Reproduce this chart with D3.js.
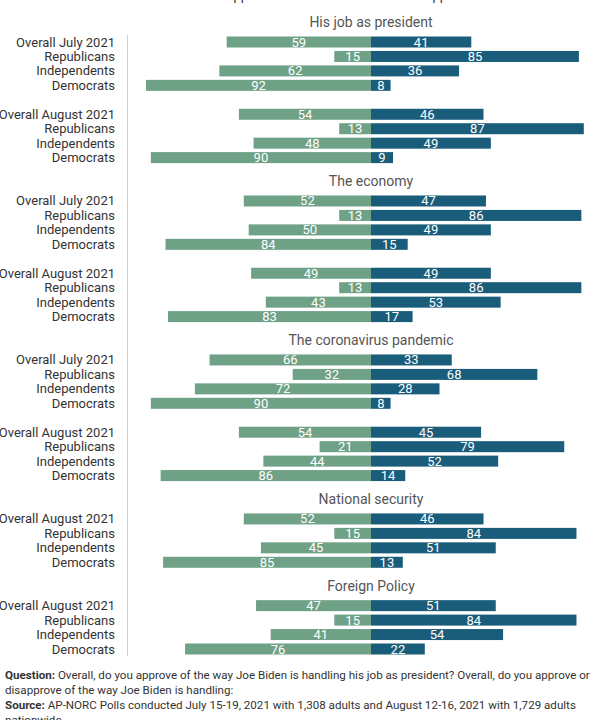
<!DOCTYPE html>
<html><head><meta charset="utf-8">
<script src="https://cdn.jsdelivr.net/npm/d3@7"></script>
<style>
body{margin:0;background:#fff;font-family:Roboto,"Noto Sans",sans-serif;}
.foot{position:absolute;left:5px;top:668px;width:600px;font-size:11.6px;line-height:15px;color:#333;}
</style></head>
<body>
<svg id="c" width="613" height="665"></svg>
<div class="foot"><b>Question:</b> Overall, do you approve of the way Joe Biden is handling his job as president? Overall, do you approve or disapprove of the way Joe Biden is handling:<br><b>Source:</b> AP-NORC Polls conducted July 15-19, 2021 with 1,308 adults and August 12-16, 2021 with 1,729 adults nationwide</div>
<script>
const legendLabels = ["Disapprove","Approve"];
const topics = ["His job as president","The economy","The coronavirus pandemic","National security","Foreign Policy"];
const groupTopic = [0,0,1,1,2,2,3,4];
const groupPeriod = ["Overall July 2021","Overall August 2021","Overall July 2021","Overall August 2021","Overall July 2021","Overall August 2021","Overall August 2021","Overall August 2021"];
const subgroups = ["Republicans","Independents","Democrats"];
const disapprove = [[59,15,62,92],[54,13,48,90],[52,13,50,84],[49,13,43,83],[66,32,72,90],[54,21,44,86],[52,15,45,85],[47,15,41,76]];
const approve = [[41,85,36,8],[46,87,49,9],[47,86,49,15],[49,86,53,17],[33,68,28,8],[45,79,52,14],[46,84,51,13],[51,84,54,22]];

const green = "#6fa187", blue = "#1a5d7b";
const svg = d3.select("#c");

// build slot layout
const rows = []; const titles = [];
let slot = 0;
groupTopic.forEach((t,gi)=>{
  if(gi>0){ slot += (groupTopic[gi-1]===t) ? 2 : 3; }
  if(gi===0 || groupTopic[gi-1]!==t) titles.push({topic:topics[t], slot:slot});
  const labels = [groupPeriod[gi]].concat(subgroups);
  labels.forEach((lab,i)=>{
    rows.push({label:lab, slot:slot+i, dis:disapprove[gi][i], app:approve[gi][i]});
  });
  slot += 3;
});
const y = d3.scaleLinear().domain([0, slot]).range([42, 649]);
const x = d3.scaleLinear().domain([-100,100]).range([371-244.6, 371+244.6]);
const bh = 11;

// legend (cut off at top)
svg.append("text").attr("x",208).attr("y",-0.5).attr("font-size",13).attr("fill","#333").text(legendLabels[0]);
svg.append("text").attr("x",424).attr("y",-0.5).attr("font-size",13).attr("fill","#333").text(legendLabels[1]);

svg.append("line").attr("x1",127.5).attr("x2",127.5).attr("y1",35).attr("y2",656).attr("stroke","#d0d0d0");

svg.selectAll(".title").data(titles).join("text")
  .attr("x",x(0)).attr("y",d=>y(d.slot)-15).attr("text-anchor","middle")
  .attr("font-size",14).attr("fill","#555").text(d=>d.topic);

svg.selectAll(".lab").data(rows).join("text")
  .attr("x",115).attr("y",d=>y(d.slot)+4.5).attr("text-anchor","end")
  .attr("font-size",13).attr("fill","#333").text(d=>d.label);

svg.selectAll(".dis").data(rows).join("rect")
  .attr("x",d=>x(-d.dis)).attr("width",d=>x(0)-x(-d.dis))
  .attr("y",d=>y(d.slot)-bh/2).attr("height",bh).attr("fill",green);
svg.selectAll(".app").data(rows).join("rect")
  .attr("x",x(0)).attr("width",d=>x(d.app)-x(0))
  .attr("y",d=>y(d.slot)-bh/2).attr("height",bh).attr("fill",blue);

svg.selectAll(".dv").data(rows).join("text")
  .attr("x",d=>x(-d.dis/2)).attr("y",d=>y(d.slot)+4.5).attr("text-anchor","middle")
  .attr("font-size",13).attr("fill","#fff").text(d=>d.dis);
svg.selectAll(".av").data(rows).join("text")
  .attr("x",d=>x(d.app/2)).attr("y",d=>y(d.slot)+4.5).attr("text-anchor","middle")
  .attr("font-size",13).attr("fill","#fff").text(d=>d.app);
</script>
</body></html>
